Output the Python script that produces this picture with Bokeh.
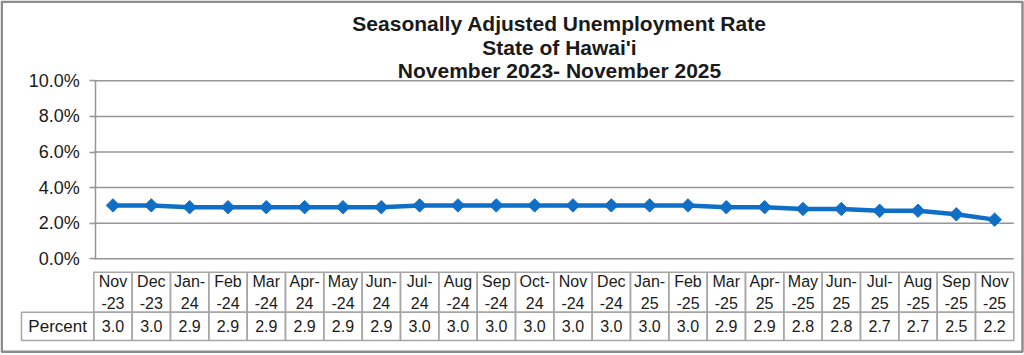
import math
from bokeh.plotting import figure
from bokeh.models import Range1d, LinearAxis, FixedTicker, PrintfTickFormatter
from bokeh.core.properties import value
from bokeh.embed import file_html
from bokeh.resources import INLINE

# ---------------- data ----------------
TITLE_LINES = ["Seasonally Adjusted Unemployment Rate",
               "State of Hawai'i",
               "November 2023- November 2025"]
MONTHS = ["Nov\n-23", "Dec\n-23", "Jan-\n24", "Feb\n-24", "Mar\n-24", "Apr-\n24",
          "May\n-24", "Jun-\n24", "Jul-\n24", "Aug\n-24", "Sep\n-24", "Oct-\n24",
          "Nov\n-24", "Dec\n-24", "Jan-\n25", "Feb\n-25", "Mar\n-25", "Apr-\n25",
          "May\n-25", "Jun-\n25", "Jul-\n25", "Aug\n-25", "Sep\n-25", "Nov\n-25"]
RATES = [3.0, 3.0, 2.9, 2.9, 2.9, 2.9, 2.9, 2.9, 3.0, 3.0, 3.0, 3.0,
         3.0, 3.0, 3.0, 3.0, 2.9, 2.9, 2.8, 2.8, 2.7, 2.7, 2.5, 2.2]
Y_TICKS = [0, 2, 4, 6, 8, 10]
ROW_LABEL = "Percent"

# ---------------- layout / style ----------------
W, H = 1024, 355
TABLE_LEFT, TABLE_RIGHT = 93.3, 1013.3
LABEL_LEFT = 21.0
HEAD_TOP, ROW_TOP, ROW_BOT = 271.7, 311.7, 340.0
Y0_PX, Y10_PX = 258.3, 80.3
N = len(MONTHS)
COL_W = (TABLE_RIGHT - TABLE_LEFT) / N
UNIT = (Y0_PX - Y10_PX) / 10.0

BLUE = "#0F6FC6"
GRID = "#969696"
TBL = "#a6a6a6"
BORDER = "#8c8c8c"
TXT = "#1a1a1a"
FONT = "Liberation Sans"

x_start = -0.5 - TABLE_LEFT / COL_W
x_end = x_start + W / COL_W
y_start = -(H - Y0_PX) / UNIT
y_end = Y0_PX / UNIT

p = figure(width=W, height=H,
           x_range=Range1d(x_start, x_end), y_range=Range1d(y_start, y_end),
           x_axis_type=None, y_axis_type=None, tools="", toolbar_location=None,
           output_backend="svg", min_border=0,
           background_fill_color="white", border_fill_color="white")
p.outline_line_color = None
p.extra_x_ranges = {"px": Range1d(0, W)}
p.extra_y_ranges = {"py": Range1d(H, 0)}

idx = list(range(N))

# gridlines
p.segment(x0=-0.5, x1=N - 0.5, y0=Y_TICKS, y1=Y_TICKS,
          line_color=GRID, line_width=1.5)

# y axis
ax = LinearAxis(fixed_location=-0.45, bounds=(0, 10),
                ticker=FixedTicker(ticks=Y_TICKS),
                formatter=PrintfTickFormatter(format="%.1f%%"))
ax.axis_line_color = GRID
ax.axis_line_width = 1.5
ax.major_tick_line_color = GRID
ax.major_tick_line_width = 1.5
ax.major_tick_out = 6
ax.major_tick_in = 0
ax.minor_tick_out = 0
ax.minor_tick_in = 0
ax.major_label_standoff = 10
ax.major_label_text_font = FONT
ax.major_label_text_font_size = "18px"
ax.major_label_text_color = TXT
p.add_layout(ax, "left")

# series
p.line(x=idx, y=RATES, line_color=BLUE, line_width=4.5)
p.scatter(x=idx, y=RATES, marker="square", angle=math.pi / 4, size=9.5,
          fill_color=BLUE, line_color=BLUE)

# data table
lefts = [i - 0.5 for i in idx]
rights = [i + 0.5 for i in idx]
p.quad(left=lefts, right=rights, top=HEAD_TOP, bottom=ROW_TOP, y_range_name="py",
       fill_color=None, line_color=TBL, line_width=1.5)
p.quad(left=lefts, right=rights, top=ROW_TOP, bottom=ROW_BOT, y_range_name="py",
       fill_color=None, line_color=TBL, line_width=1.5)
p.quad(left=LABEL_LEFT, right=TABLE_LEFT, top=ROW_TOP, bottom=ROW_BOT,
       x_range_name="px", y_range_name="py",
       fill_color=None, line_color=TBL, line_width=1.5)

p.text(x=idx, y=(HEAD_TOP + ROW_TOP) / 2, text=MONTHS, y_range_name="py",
       text_align="center", text_baseline="middle", text_font=value(FONT),
       text_font_size="16px", text_line_height=1.3, text_color=TXT)
p.text(x=idx, y=(ROW_TOP + ROW_BOT) / 2, text=[f"{v:.1f}" for v in RATES],
       y_range_name="py", text_align="center", text_baseline="middle",
       text_font=value(FONT), text_font_size="16px", text_color=TXT)
p.text(x=[(LABEL_LEFT + TABLE_LEFT) / 2], y=[(ROW_TOP + ROW_BOT) / 2], text=[ROW_LABEL],
       x_range_name="px", y_range_name="py", text_align="center", text_baseline="middle",
       text_font=value(FONT), text_font_size="17px", text_color=TXT)

# title
p.text(x=559, y=[23.3, 46.8, 70.3], text=TITLE_LINES,
       x_range_name="px", y_range_name="py", text_align="center",
       text_baseline="alphabetic", text_font=value(FONT), text_font_style="bold",
       text_font_size="21px", text_color=TXT)

# outer border
p.quad(left=1.25, right=1022, top=1.25, bottom=351.2,
       x_range_name="px", y_range_name="py",
       fill_color=None, line_color=BORDER, line_width=2.5)

open("out.html", "w").write(file_html(p, INLINE))
